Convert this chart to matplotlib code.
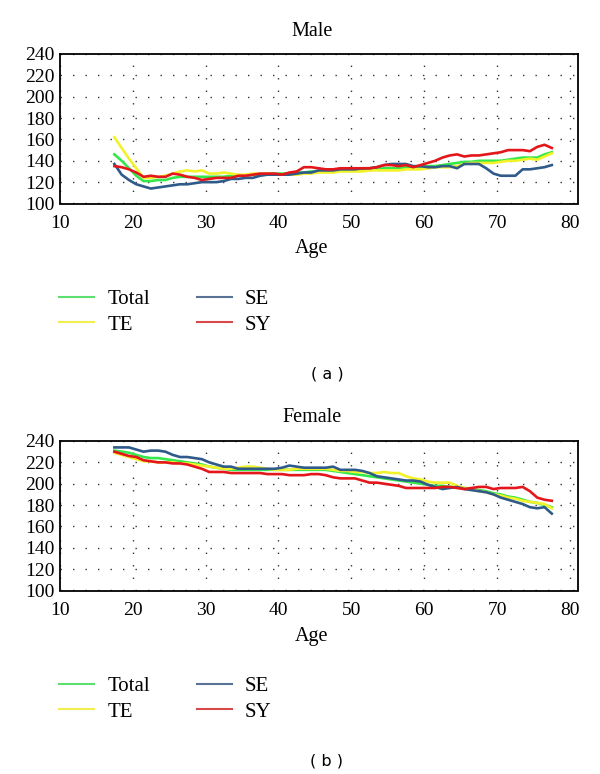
import numpy as np
import matplotlib
matplotlib.use("Agg")
import matplotlib.pyplot as plt
from matplotlib.lines import Line2D

ages = [17.5 + i for i in range(61)]

male_total = [146, 140, 133, 126, 121, 121, 122, 122, 124, 125, 125, 125, 125, 125, 125, 125,
              126, 126, 126, 127, 127, 128, 128, 128, 128, 129, 129, 130, 130, 130, 131, 131,
              131, 131, 132, 132, 132, 133, 133, 133, 134, 134, 134, 135, 135, 136, 137, 138,
              139, 139, 140, 140, 140, 140, 141, 142, 143, 143, 143, 146, 148]
male_te = [162, 152, 142, 133, 124, 124, 125, 126, 128, 130, 131, 130, 131, 128, 128, 129,
           128, 127, 127, 128, 128, 128, 127, 127, 127, 127, 128, 128, 129, 129, 129, 130,
           130, 130, 130, 131, 131, 131, 131, 131, 132, 132, 132, 133, 134, 134, 134, 135,
           137, 138, 138, 138, 138, 139, 140, 140, 141, 142, 141, 144, 147]
male_se = [137, 127, 122, 118, 116, 114, 115, 116, 117, 118, 118, 119, 120, 120, 120, 121,
           123, 123, 124, 124, 126, 127, 127, 127, 127, 128, 129, 129, 131, 131, 131, 132,
           132, 132, 133, 133, 134, 136, 137, 137, 137, 135, 135, 134, 134, 135, 135, 133,
           137, 137, 137, 133, 128, 126, 126, 126, 132, 132, 133, 134, 136]
male_sy = [135, 134, 132, 129, 125, 126, 125, 125, 128, 127, 125, 124, 122, 123, 124, 124,
           124, 126, 126, 127, 128, 128, 128, 127, 129, 130, 134, 134, 133, 132, 132, 133,
           133, 133, 133, 133, 134, 136, 136, 135, 136, 134, 136, 138, 140, 143, 145, 146,
           144, 145, 145, 146, 147, 148, 150, 150, 150, 149, 153, 155, 152]

female_total = [231, 230, 229, 227, 225, 224, 224, 223, 222, 221, 220, 219, 218, 216, 215, 214,
                213, 213, 213, 213, 213, 213, 213, 213, 213, 213, 213, 213, 213, 213, 212, 211,
                210, 209, 208, 207, 206, 205, 204, 203, 202, 201, 200, 199, 198, 198, 197, 197,
                196, 195, 194, 193, 191, 190, 188, 187, 185, 183, 182, 180, 178]
female_te = [229, 227, 225, 223, 221, 221, 220, 220, 220, 219, 219, 218, 217, 216, 215, 214,
             214, 215, 216, 216, 215, 214, 213, 213, 213, 214, 214, 214, 214, 214, 213, 212,
             212, 211, 211, 210, 210, 211, 210, 210, 207, 205, 204, 202, 201, 201, 201, 198,
             196, 195, 193, 192, 190, 189, 187, 186, 184, 183, 182, 181, 177]
female_se = [234, 234, 234, 232, 230, 231, 231, 230, 227, 225, 225, 224, 223, 220, 218, 216,
             216, 214, 214, 214, 214, 214, 214, 215, 217, 216, 215, 215, 215, 215, 216, 213,
             213, 213, 212, 210, 207, 206, 205, 204, 203, 203, 202, 199, 197, 195, 196, 197,
             195, 194, 193, 192, 190, 187, 185, 183, 181, 178, 177, 178, 172]
female_sy = [230, 228, 226, 225, 222, 221, 220, 220, 219, 219, 218, 216, 214, 211, 211, 211,
             210, 210, 210, 210, 210, 209, 209, 209, 208, 208, 208, 209, 209, 208, 206, 205,
             205, 205, 203, 201, 201, 200, 199, 198, 196, 196, 196, 196, 196, 197, 197, 196,
             195, 196, 197, 197, 195, 196, 196, 196, 197, 193, 187, 185, 184]

series_names = ["Total", "TE", "SE", "SY"]
colors = ["#35e84a", "#f2f22a", "#2f5a8a", "#e3161b"]
legend_colors = ["#5ee070", "#f0ee50", "#5a7294", "#d84848"]
xticks = [10, 20, 30, 40, 50, 60, 70, 80]
yticks = [100, 120, 140, 160, 180, 200, 220, 240]

serif = "Liberation Serif"
H = 774.0

fig = plt.figure(figsize=(6.0, 7.74), dpi=100)

def make_panel(top_px, data, title, tag):
    bottom_px = top_px + 149.5
    ax = fig.add_axes([0.0995, 1 - bottom_px / H, 0.8633, 149.5 / H])
    for vals, c in zip(data, colors):
        ax.plot(ages, vals, color=c, lw=1.9, solid_joinstyle="round")
    ax.set_xlim(10, 81.05)
    ax.set_ylim(100, 240)
    ax.set_xticks(xticks)
    ax.set_yticks(yticks)
    ax.grid(True, color="#333333", linestyle=(0, (1, 8)), linewidth=1.0)
    ax.set_axisbelow(True)
    ax.tick_params(length=0, labelsize=14, pad=3.5)
    ax.tick_params(axis="x", pad=8)
    for lab in ax.get_xticklabels() + ax.get_yticklabels():
        lab.set_fontfamily(serif)
    for s in ax.spines.values():
        s.set_linewidth(1.3)
        s.set_color("black")
    off = top_px - 54
    fig.text(0.52, 1 - (31 + off) / H, title, ha="center", va="center", fontsize=14.5, family=serif)
    fig.text(0.52, 1 - (249 + off) / H, "Age", ha="center", va="center", fontsize=14.5, family=serif)
    handles = [Line2D([], [], color=c, lw=1.5) for c in legend_colors]
    fig.legend(handles, series_names, loc="center left",
               bbox_to_anchor=(0.098, 1 - (312 + off) / H),
               ncol=2, frameon=False, borderpad=0, borderaxespad=0,
               handlelength=1.7, handletextpad=0.62, columnspacing=2.25,
               labelspacing=0.3, prop={"family": serif, "size": 15})
    fig.text(0.545, 1 - (374 + off) / H, tag, ha="center", va="center", fontsize=11.5,
             family="DejaVu Sans")
    return ax

make_panel(54, [male_total, male_te, male_se, male_sy], "Male", "( a )")
make_panel(441, [female_total, female_te, female_se, female_sy], "Female", "( b )")

fig.savefig("out.png", dpi=100)
